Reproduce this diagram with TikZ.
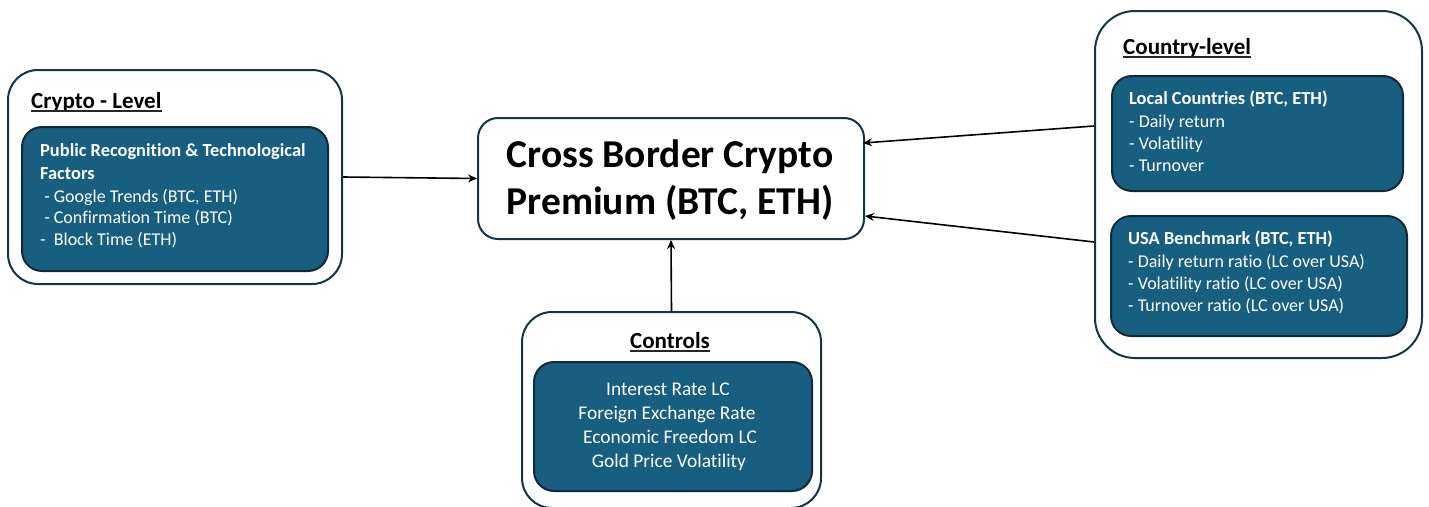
\documentclass[tikz,border=0pt]{standalone}
\usepackage{fontspec}
\setmainfont{Carlito}[RawFeature=-liga]
\usetikzlibrary{arrows.meta}
\definecolor{boxfill}{RGB}{24,94,128}
\definecolor{boxedge}{RGB}{16,42,58}
\definecolor{outeredge}{RGB}{22,52,68}
\tikzset{
  outerbox/.style={draw=outeredge, line width=2pt, fill=white, rounded corners=#1, anchor=north west, inner sep=0pt},
  outerbox/.default=30pt,
  innerbox/.style={draw=boxedge, line width=2pt, fill=boxfill, rounded corners=20pt, anchor=north west, inner sep=0pt},
  headtxt/.style={inner sep=0pt, anchor=base west, font=\fontsize{23}{27}\selectfont\bfseries, text=black},
  intxt/.style={inner sep=0pt, anchor=base west, font=\fontsize{18}{22}\selectfont, text=white},
  ctltxt/.style={inner sep=0pt, anchor=base, font=\fontsize{19.4}{23}\selectfont, text=white},
  inbold/.style={inner sep=0pt, anchor=base west, font=\fontsize{18.4}{22}\selectfont\bfseries, text=white},
  uline/.style={draw=black!85, line width=1.2pt},
  conn/.style={draw=black, line width=1.6pt, -{Stealth[length=9pt,width=8pt]}},
}
\begin{document}
\begin{tikzpicture}[x=1pt,y=-1pt]
\useasboundingbox[fill=white] (0,0) rectangle (1429,506);
% Crypto level
\node[outerbox, minimum width=334pt, minimum height=214pt] (cryo) at (7,69) {};
\node[headtxt] (cryt) at (31,108) {Crypto - Level};
\draw[uline] ([yshift=-3pt]cryt.base west) -- ([yshift=-3pt]cryt.base east);
\node[innerbox, minimum width=306pt, minimum height=144pt] (cryi) at (21,126) {};
\node[inbold] (cry1) at (40,156) {Public Recognition \& Technological};
\node[inbold] (cry2) at (40,179) {Factors};
\node[intxt] (cry3) at (40,202) {\ - Google Trends (BTC, ETH)};
\node[intxt] (cry4) at (40,223) {\ - Confirmation Time (BTC)};
\node[intxt] (cry5) at (40,245) {-\ \ Block Time (ETH)};
% Central
\node[draw=outeredge, line width=2pt, fill=white, rounded corners=20pt, minimum width=386pt, minimum height=121pt, anchor=north west, inner sep=0pt] (main) at (477,117) {};
\node[inner sep=0pt, anchor=base, font=\fontsize{39.5}{46}\selectfont\bfseries] (m1) at (670,167) {Cross Border Crypto};
\node[inner sep=0pt, anchor=base, font=\fontsize{39.5}{46}\selectfont\bfseries] (m2) at (670,214) {Premium (BTC, ETH)};
% Controls
\node[outerbox, minimum width=299pt, minimum height=196pt] (ctlo) at (521,311) {};
\node[headtxt, anchor=base] (ctlt) at (670,348) {Controls};
\draw[uline] ([yshift=-3pt]ctlt.base west) -- ([yshift=-3pt]ctlt.base east);
\node[innerbox, minimum width=278pt, minimum height=129pt] (ctli) at (533,361) {};
\node[ctltxt] (c1) at (668,395) {Interest Rate LC};
\node[ctltxt] (c2) at (667,419) {Foreign Exchange Rate};
\node[ctltxt] (c3) at (670,443) {Economic Freedom LC};
\node[ctltxt] (c4) at (669,467) {Gold Price Volatility};
% Country level
\node[outerbox=40pt, minimum width=327pt, minimum height=347pt] (couo) at (1094,10) {};
\node[headtxt] (cout) at (1123,54) {Country-level};
\draw[uline] ([yshift=-3pt]cout.base west) -- ([yshift=-3pt]cout.base east);
\node[innerbox, minimum width=291pt, minimum height=115pt] (loc) at (1111,75) {};
\node[inbold] (l1) at (1129,104) {Local Countries (BTC, ETH)};
\node[intxt] (l2) at (1129,127) {- Daily return};
\node[intxt] (l3) at (1129,149) {- Volatility};
\node[intxt] (l4) at (1129,171) {- Turnover};
\node[innerbox, minimum width=296pt, minimum height=120pt] (usa) at (1110,215) {};
\node[inbold] (u1) at (1128,244) {USA Benchmark (BTC, ETH)};
\node[intxt] (u2) at (1128,267) {- Daily return ratio (LC over USA)};
\node[intxt] (u3) at (1128,289) {- Volatility ratio (LC over USA)};
\node[intxt] (u4) at (1128,311) {- Turnover ratio (LC over USA)};
% connectors
\coordinate (ca) at (1094,126);
\coordinate (cb) at (1094,242);
\coordinate (ma) at (863,143);
\coordinate (mb) at (865,216);
\draw[conn] (cryo.east) -- (main.west);
\draw[conn] (ctlo.north) -- (main.south);
\draw[conn] (ca) -- (ma);
\draw[conn] (cb) -- (mb);
\end{tikzpicture}
\end{document}
